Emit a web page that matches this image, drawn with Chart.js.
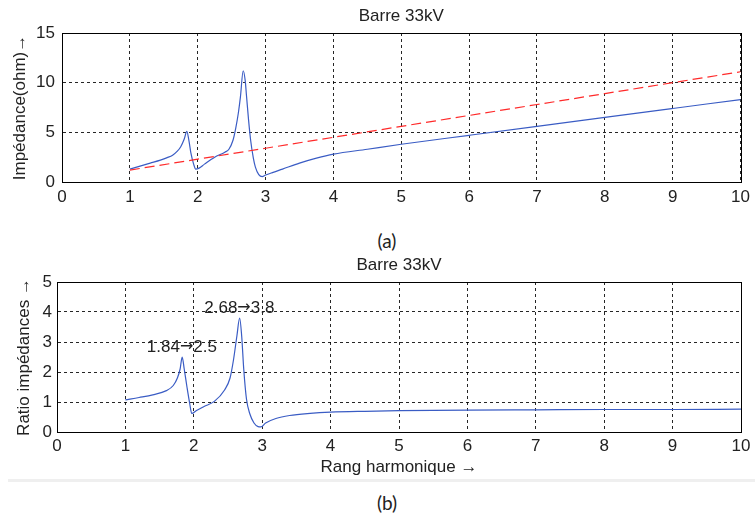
<!DOCTYPE html>
<html>
<head>
<meta charset="utf-8">
<script src="https://cdn.jsdelivr.net/npm/chart.js@4.4.1/dist/chart.umd.min.js"></script>
<style>
  body { margin: 0; background: #fff; width: 755px; height: 515px; position: relative; overflow: hidden; }
  .box { position: absolute; left: 0; }
  .cap { position: absolute; font-family: Lato, "Open Sans", sans-serif; font-size: 19px; color: #222; transform: translate(-50%, -50%); }
  .sep { position: absolute; left: 8px; top: 479px; width: 747px; height: 3px; background: #efefef; }
</style>
</head>
<body>
<div class="box" style="top:0"><canvas id="chartA" width="755" height="210"></canvas></div>
<div class="cap" style="left:387px; top:240px">(a)</div>
<div class="box" style="top:255px"><canvas id="chartB" width="755" height="223"></canvas></div>
<div class="sep"></div>
<div class="cap" style="left:387px; top:502px">(b)</div>

<script>
// harmonic order on the x axis
const xTicks = [0, 1, 2, 3, 4, 5, 6, 7, 8, 9, 10];
const yTicksA = [0, 5, 10, 15];
const yTicksB = [0, 1, 2, 3, 4, 5];

// (a) impedance seen from the 33kV busbar (blue)
const rangA = [1.0, 1.15, 1.3, 1.45, 1.55, 1.63, 1.7, 1.75, 1.8, 1.84, 1.87, 1.9, 1.94, 1.97, 2.02, 2.1, 2.25, 2.4, 2.46, 2.52, 2.56, 2.6, 2.63, 2.67, 2.7, 2.72, 2.75, 2.78, 2.82, 2.85, 2.9, 2.95, 3.0, 3.1, 3.25, 3.5, 3.75, 4.0, 4.5, 5.0, 6.0, 7.0, 8.0, 9.0, 10.0];
const impedanceA = [1.3, 1.6, 1.9, 2.2, 2.45, 2.7, 3.1, 3.55, 4.3, 5.1, 4.2, 2.9, 1.8, 1.3, 1.4, 1.8, 2.5, 3.0, 3.3, 4.2, 5.4, 7.0, 8.6, 11.2, 10.2, 8.6, 6.2, 4.2, 2.4, 1.5, 0.75, 0.55, 0.7, 0.95, 1.3, 1.9, 2.4, 2.8, 3.3, 3.8, 4.7, 5.6, 6.5, 7.4, 8.3];

// (a) reference impedance without filters (red dashed)
const rangRef = [1, 2, 3, 4, 5, 6, 7, 8, 9, 10];
const impedanceRef = [1.2, 2.3, 3.4, 4.5, 5.6, 6.7, 7.8, 8.9, 10.0, 11.1];

// (b) impedance ratio
const rangB = [1.0, 1.2, 1.4, 1.6, 1.7, 1.76, 1.8, 1.83, 1.86, 1.9, 1.94, 1.97, 2.04, 2.15, 2.3, 2.45, 2.53, 2.58, 2.63, 2.67, 2.7, 2.73, 2.77, 2.82, 2.88, 2.94, 2.98, 3.05, 3.2, 3.4, 3.7, 4.0, 4.5, 5.0, 6.0, 7.0, 8.0, 9.0, 10.0];
const ratioB = [1.07, 1.15, 1.24, 1.38, 1.55, 1.8, 2.1, 2.5, 2.1, 1.5, 0.95, 0.62, 0.72, 0.85, 1.02, 1.4, 1.8, 2.4, 3.2, 3.8, 3.2, 2.1, 1.1, 0.6, 0.3, 0.18, 0.17, 0.3, 0.45, 0.55, 0.62, 0.66, 0.69, 0.71, 0.73, 0.74, 0.75, 0.75, 0.76];

// peak labels on (b): "from → to"
const peakRang = [1.84, 2.68];
const peakRatio = [2.5, 3.8];
const peakFrom = ['1.84', '2.68'];
const peakTo = ['2.5', '3.8'];

const FONT = '"Liberation Sans", Arial, sans-serif';
Chart.defaults.font.family = FONT;
Chart.defaults.font.size = 17;
Chart.defaults.color = '#222';

const BLUE = '#3a5cc4';
const RED = '#ff2a2a';

const toPoints = (xs, ys) => xs.map((x, i) => ({ x, y: ys[i] }));

// box around the axes + title centred on the plot area (MATLAB style)
const framePlugin = {
  id: 'frame',
  afterDraw(chart, args, opts) {
    const { ctx, chartArea: a } = chart;
    ctx.save();
    ctx.strokeStyle = '#000';
    ctx.lineWidth = 1;
    const l = Math.round(a.left) + 0.5, t = Math.round(a.top) + 0.5;
    const r = Math.round(a.right) + 0.5, b = Math.round(a.bottom) + 0.5;
    ctx.strokeRect(l, t, r - l, b - t);
    ctx.font = '17px ' + FONT;
    ctx.fillStyle = '#222';
    ctx.textAlign = 'center';
    ctx.textBaseline = 'middle';
    ctx.fillText(opts.text, (a.left + a.right) / 2, a.top - opts.gap);
    ctx.restore();
  }
};

// peak labels, the arrow taken from DejaVu so it has full size
const peakPlugin = {
  id: 'peaks',
  afterDatasetsDraw(chart) {
    const { ctx, scales } = chart;
    const numFont = '17px ' + FONT;
    const arrowFont = '16px "DejaVu Sans", sans-serif';
    ctx.save();
    ctx.fillStyle = '#222';
    ctx.textAlign = 'left';
    ctx.textBaseline = 'middle';
    peakRang.forEach((xv, i) => {
      const parts = [[peakFrom[i], numFont], ['\u2192', arrowFont], [peakTo[i], numFont]];
      let w = 0;
      parts.forEach(p => { ctx.font = p[1]; w += ctx.measureText(p[0]).width; });
      let px = scales.x.getPixelForValue(xv) - 1 - w / 2;
      const py = scales.y.getPixelForValue(peakRatio[i]) - 10;
      parts.forEach(p => {
        ctx.font = p[1];
        ctx.fillText(p[0], px, py);
        px += ctx.measureText(p[0]).width;
      });
    });
    ctx.restore();
  }
};

function axisX(height, pad, title) {
  return {
    type: 'linear', min: 0, max: 10,
    afterBuildTicks: s => { s.ticks = xTicks.map(v => ({ value: v })); },
    afterFit: s => { s.height = height; },
    grid: { color: 'rgba(0,0,0,0.85)', drawTicks: false },
    border: { color: '#000', dash: [3, 3] },
    ticks: { padding: pad, maxRotation: 0, autoSkip: false },
    title: title ? { display: true, text: title, padding: { top: 0, bottom: 0 } } : { display: false }
  };
}

function axisY(width, max, ticks, pad, title, titlePad) {
  return {
    type: 'linear', min: 0, max: max,
    afterBuildTicks: s => { s.ticks = ticks.map(v => ({ value: v })); },
    afterFit: s => { s.width = width; },
    grid: { color: 'rgba(0,0,0,0.85)', drawTicks: false },
    border: { color: '#000', dash: [3, 3] },
    ticks: { padding: pad },
    title: { display: true, text: title, padding: { top: titlePad, bottom: 0 } }
  };
}

new Chart(document.getElementById('chartA'), {
  type: 'line',
  data: {
    datasets: [
      { data: toPoints(rangRef, impedanceRef), borderColor: RED, borderWidth: 1.2, borderDash: [10, 5], pointRadius: 0 },
      { data: toPoints(rangA, impedanceA), borderColor: BLUE, borderWidth: 1.2, pointRadius: 0, cubicInterpolationMode: 'monotone' }
    ]
  },
  options: {
    responsive: false,
    animation: false,
    layout: { padding: { top: 33, right: 10, left: 0, bottom: 0 } },
    plugins: { legend: { display: false }, tooltip: { enabled: false }, frame: { text: 'Barre 33kV', gap: 17 } },
    scales: {
      x: axisX(28, 5, null),
      y: axisY(62, 15, yTicksA, 7, 'Imp\u00e9dance(ohm)\u2192', 10)
    }
  },
  plugins: [framePlugin]
});

new Chart(document.getElementById('chartB'), {
  type: 'line',
  data: {
    datasets: [
      { data: toPoints(rangB, ratioB), borderColor: BLUE, borderWidth: 1.2, pointRadius: 0, cubicInterpolationMode: 'monotone' }
    ]
  },
  options: {
    responsive: false,
    animation: false,
    layout: { padding: { top: 27, right: 14, left: 0, bottom: 0 } },
    plugins: { legend: { display: false }, tooltip: { enabled: false }, frame: { text: 'Barre 33kV', gap: 17 } },
    scales: {
      x: axisX(46, 4, 'Rang harmonique \u2192'),
      y: axisY(57, 5, yTicksB, 5, 'Ratio imp\u00e9dances \u2192', 14)
    }
  },
  plugins: [framePlugin, peakPlugin]
});
</script>
</body>
</html>
